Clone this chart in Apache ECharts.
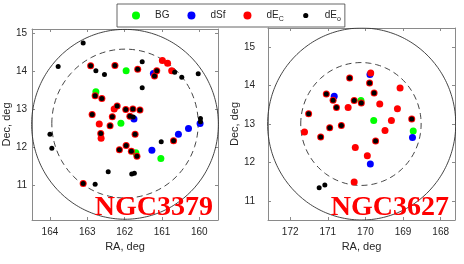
<!DOCTYPE html>
<html><head><meta charset="utf-8">
<script src="https://cdn.jsdelivr.net/npm/echarts@6/dist/echarts.min.js"></script>
<style>html,body{margin:0;padding:0;background:#fff}#c{width:464px;height:264px}</style>
</head><body><div id="c"></div><script>
// ---- categories / legend ----
const categories = ['BG', 'dSf', 'dE_C', 'dE_o'];
const panelTitles = ['NGC3379', 'NGC3627'];

// ---- tick labels ----
const leftXTicks = [160, 161, 162, 163, 164];
const leftYTicks = [11, 12, 13, 14, 15];
const rightXTicks = [168, 169, 170, 171, 172];
const rightYTicks = [11, 12, 13, 14, 15];

// ---- NGC3379 group: [RA, Dec] ----
const n3379_BG = [[161.96,14.01],[162.77,13.46],[162.10,12.63],[161.70,11.85],[161.03,11.70]];
const n3379_dSf = [[161.23,13.94],[161.75,12.74],[161.27,11.92],[160.56,12.34],[160.29,12.49],[159.98,12.62]];
const n3379_dEC = [[162.91,14.14],[162.26,14.15],[161.65,14.05],[161.20,13.87],[161.14,14.01],[160.99,14.28],
  [160.85,14.21],[160.74,14.01],[162.79,13.35],[162.61,13.28],[162.87,12.86],[162.28,13.00],[162.20,13.08],
  [162.33,12.80],[161.97,12.99],[161.78,13.00],[161.59,12.98],[161.86,12.81],[162.39,12.56],[162.68,12.61],
  [162.64,12.36],[162.63,12.23],[161.72,12.34],[162.14,11.93],[161.96,12.04],[161.82,11.89],[161.67,11.76],
  [163.11,11.04],[160.69,12.17]];
const n3379_dEo = [[163.11,14.74],[163.78,14.12],[162.91,14.14],[162.77,14.01],[162.54,13.91],[162.26,14.15],
  [161.65,14.05],[161.53,14.25],[161.53,13.56],[161.20,13.87],[161.14,14.01],[160.66,13.97],[160.47,13.84],
  [160.03,13.93],[162.79,13.35],[162.61,13.28],[162.87,12.86],[162.20,13.08],[162.33,12.80],[161.97,12.99],
  [161.78,13.00],[161.59,12.98],[161.86,12.81],[161.77,12.79],[162.39,12.56],[162.64,12.36],[161.72,12.34],
  [162.14,11.93],[161.96,12.04],[161.82,11.89],[161.67,11.76],[162.44,11.35],[161.81,11.29],[161.74,11.31],
  [163.11,11.04],[162.79,11.02],[164.00,12.34],[163.95,11.97],[161.02,12.14],[160.69,12.17],[159.97,12.75],
  [159.97,12.67]];

// ---- NGC3627 group: [RA, Dec] ----
const n3627_BG = [[170.12,13.61],[169.78,13.09],[168.73,12.82]];
const n3627_dSf = [[169.88,14.29],[170.83,13.72],[168.75,12.65],[169.87,11.96]];
const n3627_dEC = [[170.42,14.20],[169.86,14.33],[169.89,14.07],[169.08,13.94],[171.04,13.78],[170.86,13.62],
  [169.77,13.81],[170.77,13.43],[170.30,13.61],[170.11,13.55],[170.46,13.43],[169.62,13.52],[169.15,13.40],
  [171.51,13.27],[169.31,13.09],[168.77,13.13],[170.95,12.90],[170.64,12.96],[169.48,12.83],[171.62,12.79],
  [171.19,12.66],[169.73,12.56],[170.27,12.39],[169.95,12.17],[170.30,11.49]];
const n3627_dEo = [[170.42,14.20],[169.89,14.07],[171.04,13.78],[170.86,13.62],[169.77,13.81],[170.77,13.43],
  [170.30,13.61],[170.11,13.55],[171.51,13.27],[168.77,13.13],[170.95,12.90],[170.64,12.96],[171.19,12.66],
  [169.73,12.56],[171.23,11.34],[171.08,11.41]];

// ---- reference circles (center RA, center Dec, radius deg) ----
const circles3379 = [[161.99, 12.60, 2.5, 'solid'], [161.99, 12.62, 1.96, 'dashed']];
const circles3627 = [[170.10, 13.00, 2.5, 'solid'], [170.12, 13.00, 1.6, 'dashed']];

function circlePath(cx, cy, r) {
  const pts = [];
  for (let i = 0; i <= 240; i++) {
    const t = i / 240 * Math.PI * 2;
    pts.push([cx + r * Math.cos(t), cy + r * Math.sin(t)]);
  }
  return pts;
}

const colors = { BG: '#00ff00', dSf: '#0000ff', dE_C: '#ff0000', dE_o: '#000000' };
const sizes = { BG: 7, dSf: 7, dE_C: 7, dE_o: 5 };
const axisCol = '#8a8a8a';
const txtCol = '#262626';
const font = 'Liberation Sans, Arial, sans-serif';

function xAx(grid, min, max, ticks, pos, labels) {
  return {
    type: 'value', gridIndex: grid, min: min, max: max, inverse: true, position: pos,
    name: labels ? 'RA, deg' : '', nameLocation: 'middle', nameGap: 20,
    nameTextStyle: { fontSize: 11, color: txtCol, fontFamily: font },
    axisLine: { show: true, onZero: false, lineStyle: { color: axisCol, width: 1 } },
    axisTick: { show: true, inside: true, length: 3, customValues: ticks, lineStyle: { color: axisCol } },
    axisLabel: { show: labels, customValues: ticks, margin: 7, fontSize: 10, color: txtCol, fontFamily: font },
    splitLine: { show: false }
  };
}
function yAx(grid, min, max, ticks, pos, labels, labMargin, nameGap) {
  return {
    type: 'value', gridIndex: grid, min: min, max: max, position: pos,
    name: labels ? 'Dec, deg' : '', nameLocation: 'middle', nameGap: nameGap,
    nameTextStyle: { fontSize: 11, color: txtCol, fontFamily: font },
    axisLine: { show: true, onZero: false, lineStyle: { color: axisCol, width: 1 } },
    axisTick: { show: true, inside: true, length: 3, customValues: ticks, lineStyle: { color: axisCol } },
    axisLabel: { show: labels, customValues: ticks, margin: labMargin, fontSize: 10, color: txtCol, fontFamily: font },
    splitLine: { show: false }
  };
}

const series = [];
function addPanel(gi, circles, sets) {
  circles.forEach(c => {
    series.push({
      type: 'line', xAxisIndex: gi * 2, yAxisIndex: gi * 2, data: circlePath(c[0], c[1], c[2]),
      showSymbol: false, symbol: 'none', silent: true, clip: true, z: 1,
      lineStyle: { color: '#303030', width: 0.9, type: c[3] === 'dashed' ? [6, 4] : 'solid' }
    });
  });
  categories.forEach((cat, k) => {
    series.push({
      type: 'scatter', name: cat, xAxisIndex: gi * 2, yAxisIndex: gi * 2, data: sets[k],
      symbol: 'circle', symbolSize: sizes[cat], z: 3 + k,
      itemStyle: { color: colors[cat], opacity: 1 }
    });
  });
}
addPanel(0, circles3379, [n3379_BG, n3379_dSf, n3379_dEC, n3379_dEo]);
addPanel(1, circles3627, [n3627_BG, n3627_dSf, n3627_dEC, n3627_dEo]);

const option = {
  animation: false,
  grid: [
    { left: 32, top: 29, width: 186, height: 191 },
    { left: 268, top: 28, width: 187, height: 192 }
  ],
  xAxis: [
    xAx(0, 159.5, 164.48, leftXTicks, 'bottom', true),
    xAx(0, 159.5, 164.48, leftXTicks, 'top', false),
    xAx(1, 167.62, 172.59, rightXTicks, 'bottom', true),
    xAx(1, 167.62, 172.59, rightXTicks, 'top', false)
  ],
  yAxis: [
    yAx(0, 10.08, 15.11, leftYTicks, 'left', true, 5, 19),
    yAx(0, 10.08, 15.11, leftYTicks, 'right', false, 5, 19),
    yAx(1, 10.5, 15.5, rightYTicks, 'left', true, 13, 25),
    yAx(1, 10.5, 15.5, rightYTicks, 'right', false, 13, 25)
  ],
  legend: {
    left: 117, top: 4, orient: 'horizontal',
    padding: [4, 4, 4, 15],
    itemWidth: 8, itemHeight: 8, itemGap: 18,
    borderColor: '#404040', borderWidth: 0.8, borderRadius: 0,
    data: [
      { name: 'BG', icon: 'circle' },
      { name: 'dSf', icon: 'circle' },
      { name: 'dE_C', icon: 'circle' },
      { name: 'dE_o', icon: 'path://M0,0M8,8M1.4,4a2.6,2.6 0 1,0 5.2,0a2.6,2.6 0 1,0 -5.2,0Z' }
    ],
    formatter: function (name) {
      const p = name.split('_');
      return p.length > 1 ? '{m|' + p[0] + '}{s|' + p[1] + '}' : '{m|' + name + '}';
    },
    textStyle: {
      fontSize: 10, color: txtCol, fontFamily: font, padding: [0, 0, 0, 10],
      rich: {
        m: { fontSize: 10, color: txtCol, fontFamily: font, lineHeight: 12 },
        s: { fontSize: 7, color: txtCol, fontFamily: font, lineHeight: 7, padding: [8, 0, 0, 0] }
      }
    }
  },
  graphic: [
    { type: 'text', z: 100, style: { text: panelTitles[0], x: 213, y: 208, align: 'right', verticalAlign: 'middle',
      font: 'bold 28px "Liberation Serif", serif', fill: '#ff0000' } },
    { type: 'text', z: 100, style: { text: panelTitles[1], x: 449, y: 208, align: 'right', verticalAlign: 'middle',
      font: 'bold 28px "Liberation Serif", serif', fill: '#ff0000' } }
  ],
  series: series
};
const chart = echarts.init(document.getElementById('c'), null, { renderer: 'canvas' });
chart.setOption(option);
</script></body></html>
